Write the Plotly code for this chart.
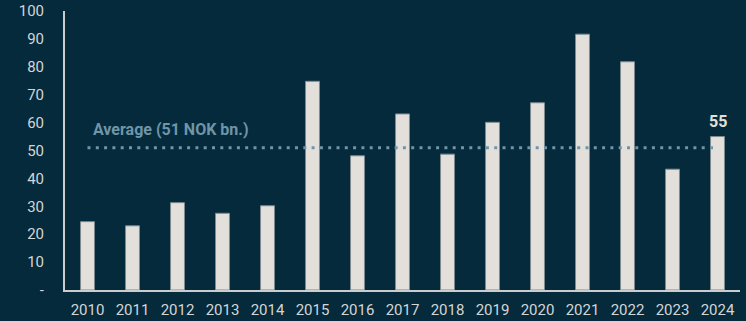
import plotly.graph_objects as go

# Annual values, NOK bn.
years = ["2010", "2011", "2012", "2013", "2014", "2015", "2016", "2017",
         "2018", "2019", "2020", "2021", "2022", "2023", "2024"]
values = [24.5, 23.0, 31.3, 27.5, 30.2, 74.8, 48.1, 63.1,
          48.7, 60.1, 67.1, 91.7, 81.8, 43.3, 55.0]
average = 51
y_ticks = [0, 10, 20, 30, 40, 50, 60, 70, 80, 90, 100]
y_ticktext = ["-", "10", "20", "30", "40", "50", "60", "70", "80", "90", "100"]

BG = "#052a3b"
BAR = "#e3e0dc"
AVG = "#6f95a8"
TXT = "#d3d6d7"
FONT = "Roboto"

fig = go.Figure()

fig.add_trace(go.Bar(
    x=years, y=values, width=0.31,
    marker=dict(color=BAR, line=dict(color="#7f8b90", width=1)),
    hoverinfo="skip",
))

# Dotted average line spanning first to last year
fig.add_trace(go.Scatter(
    x=[years[0], years[-1]], y=[average, average],
    mode="lines",
    line=dict(color=AVG, width=3, dash="3px,5.3px"),
    hoverinfo="skip",
))

# Category axis positions are given as indices for annotations
first_idx = 0
last_idx = len(years) - 1

fig.add_annotation(
    x=first_idx, y=average, xref="x", yref="y",
    text="<b>Average (%d NOK bn.)</b>" % average,
    showarrow=False, xanchor="left", yanchor="middle",
    xshift=3, yshift=18,
    font=dict(family=FONT, size=16, color=AVG),
)

fig.add_annotation(
    x=last_idx, y=values[-1], xref="x", yref="y",
    text="<b>%d</b>" % round(values[-1]),
    showarrow=False, xanchor="center", yanchor="bottom",
    yshift=4,
    font=dict(family=FONT, size=16, color=BAR),
)

fig.update_layout(
    width=746, height=321,
    margin=dict(l=65, r=6, t=11, b=31),
    paper_bgcolor=BG, plot_bgcolor=BG,
    showlegend=False,
    bargap=0.69,
    font=dict(family=FONT, color=TXT, size=15),
    xaxis=dict(
        type="category",
        range=[-0.5, 14.5],
        automargin=False,
        showline=True, linecolor="#c9cdce", linewidth=2,
        showgrid=False, zeroline=False, ticks="",
        tickfont=dict(family=FONT, size=15, color=TXT),
        ticklabelstandoff=5,
        fixedrange=True,
    ),
    yaxis=dict(
        range=[0, 100],
        automargin=False,
        tickvals=y_ticks, ticktext=y_ticktext,
        showline=True, linecolor="#c9cdce", linewidth=2,
        showgrid=False, zeroline=False, ticks="",
        tickfont=dict(family=FONT, size=15, color=TXT),
        ticklabelstandoff=16,
        fixedrange=True,
    ),
)

fig.write_html("out.html")
